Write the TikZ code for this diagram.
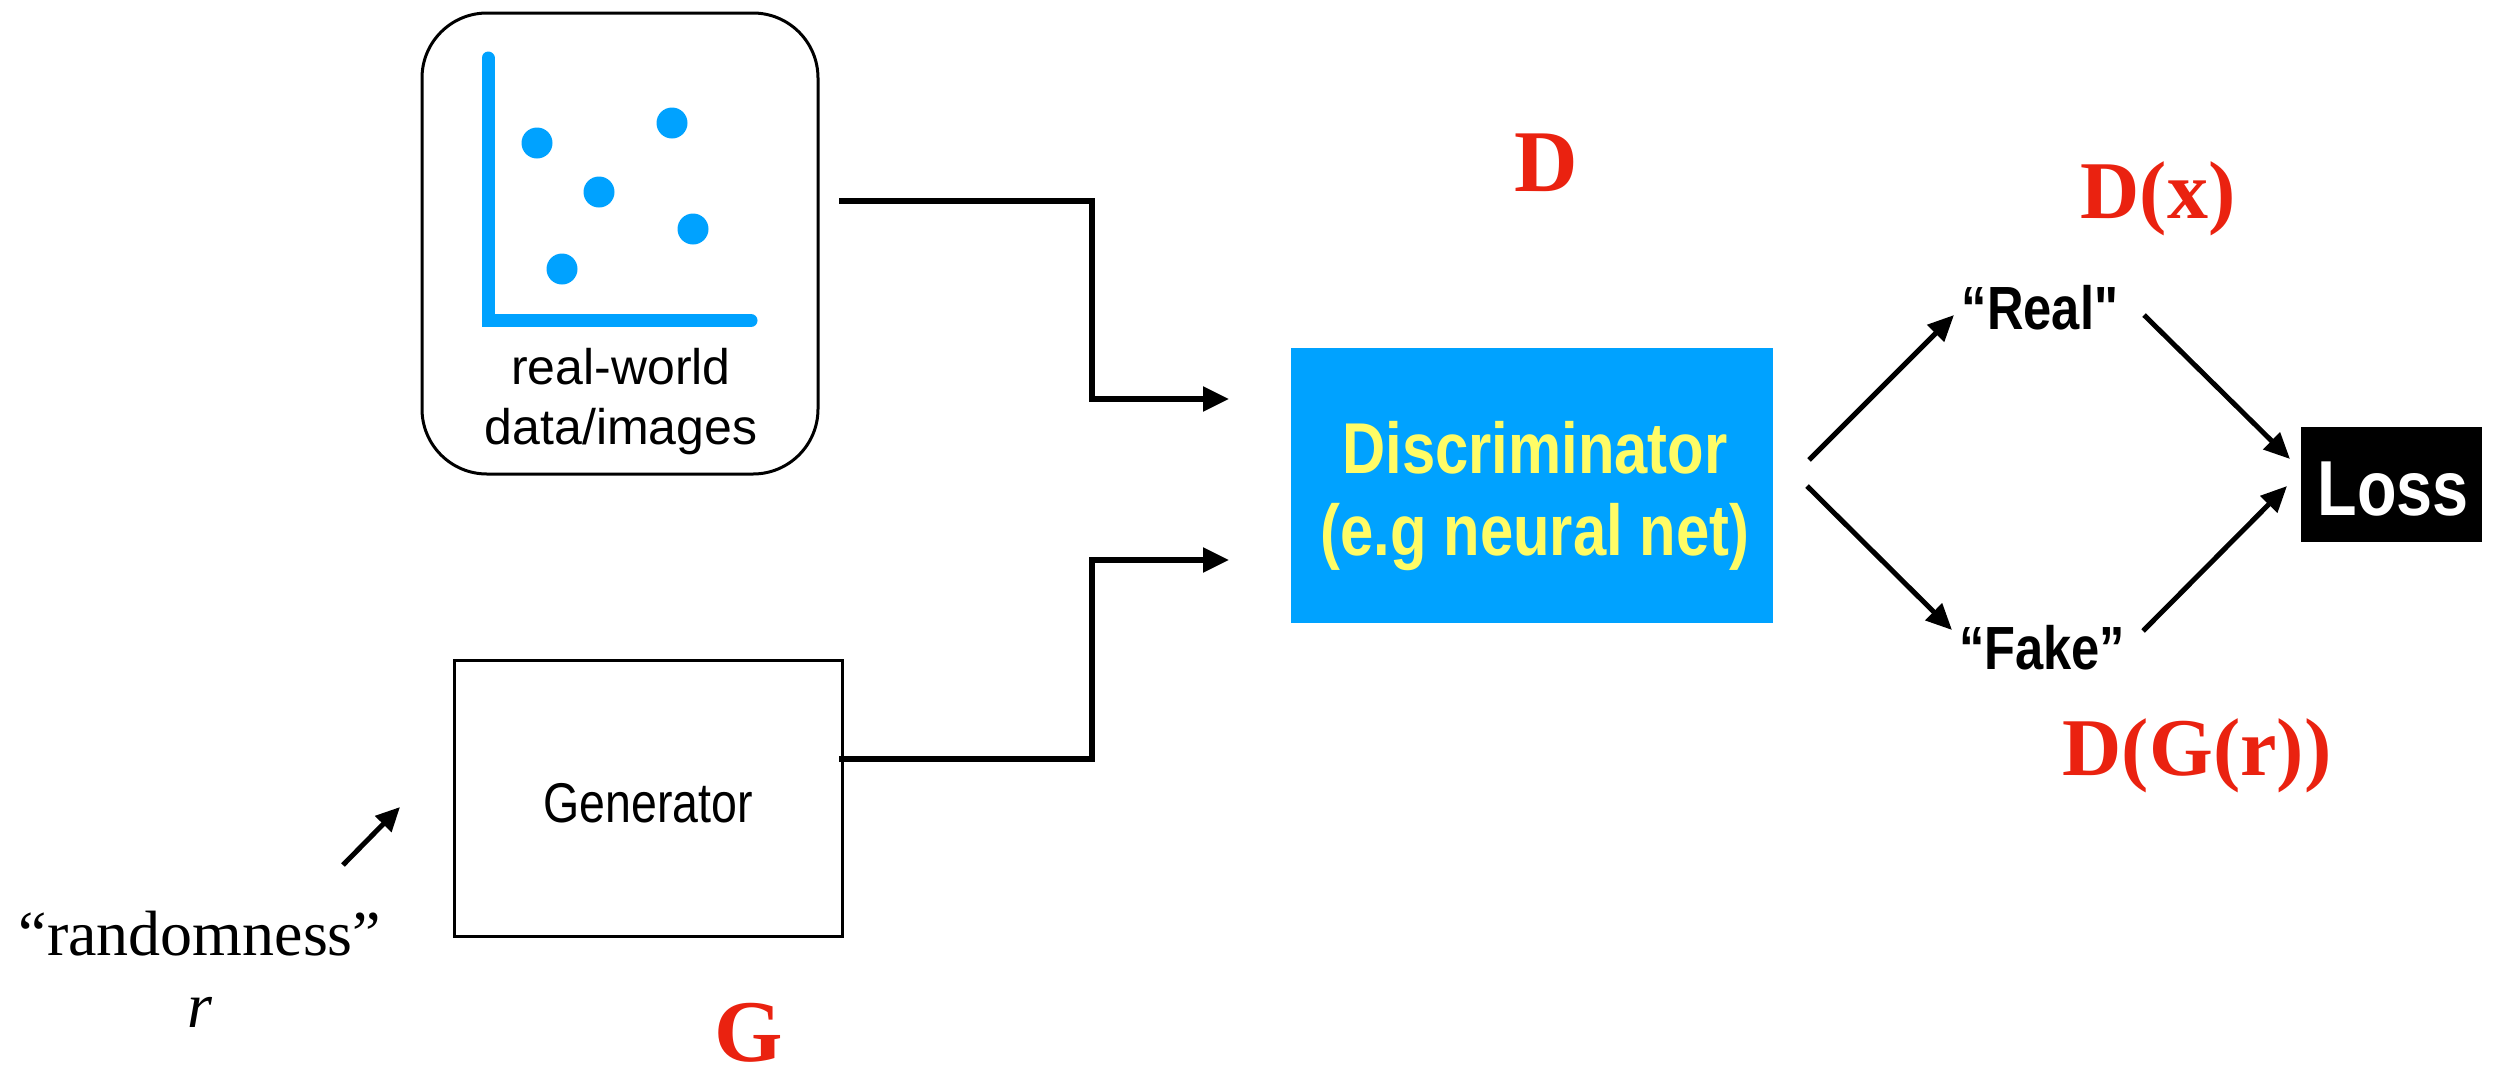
\documentclass[tikz,border=0pt]{standalone}
\usepackage{fontspec}
\usetikzlibrary{arrows.meta}
\newfontfamily\sansface{Liberation Sans}
\newfontfamily\narrowface[FakeStretch=0.83]{Liberation Sans}
\newfontfamily\serifface{Liberation Serif}
\definecolor{netblue}{RGB}{0,162,255}
\definecolor{labelred}{RGB}{234,34,16}
\definecolor{netyellow}{RGB}{255,252,102}

\begin{document}
\begin{tikzpicture}[x=1pt,y=-1pt,
  frame/.style={draw=black,line width=3pt},
  conn/.style={line width=5.5pt,-{Triangle[length=26pt,width=24pt]}},
  diag/.style={line width=5pt,-{Triangle[length=26pt,width=23pt]}},
  smallarrow/.style={line width=5pt,-{Triangle[length=24pt,width=22pt]}},
  redlabel/.style={text=labelred,anchor=base,inner sep=0pt,
    font=\serifface\bfseries\fontsize{82}{90}\selectfont},
  outlabel/.style={anchor=base,inner sep=0pt,
    font=\narrowface\bfseries\fontsize{61}{70}\selectfont},
  dot/.style={fill=netblue,draw=none}
]
\useasboundingbox (0,0) rectangle (2500,1080);

% real-world data box with scatter plot
\node[frame,rounded corners=65pt,minimum width=396pt,minimum height=461pt,inner sep=0pt]
  (real) at (620,243.5) {};
\draw[netblue,line width=13pt,line cap=round,line join=miter]
  (488,58) -- (488,320.5) -- (751,320.5);
\foreach \px/\py in {537/143, 672/123, 599/192, 693/229, 562/269}
  \fill[dot] (\px,\py) circle (15.5pt);
\node[align=center,inner sep=0pt,font=\sansface\fontsize{50}{60}\selectfont]
  (realtext) at (621,402) {real-world\\data/images};

% generator
\node[frame,minimum width=388pt,minimum height=276pt,inner sep=0pt]
  (gen) at (648,798) {};
\node[inner sep=0pt,anchor=base,font=\narrowface\fontsize{56}{64}\selectfont]
  (gentext) at (648,822) {Generator};

% randomness input
\node[anchor=base,inner sep=0pt,font=\serifface\fontsize{64}{72}\selectfont]
  (rand) at (200,955) {“randomness”};
\node[anchor=base,inner sep=0pt,font=\serifface\itshape\fontsize{64}{72}\selectfont]
  (rsym) at (200,1027) {r};
\coordinate (randfrom) at (343,865);
\coordinate (randto) at (400,807);
\draw[smallarrow] (randfrom) -- (randto);

% discriminator
\node[fill=netblue,minimum width=482pt,minimum height=275pt,inner sep=0pt]
  (disc) at (1532,485.5) {};
\node[align=center,inner sep=0pt,text=netyellow,
  font=\narrowface\bfseries\fontsize{72}{82}\selectfont]
  (disctext) at (1535,496) {Discriminator\\(e.g neural net)};

% inputs into the discriminator
\coordinate (realout) at (839,201);
\coordinate (genout) at (839,759);
\coordinate (discin1) at (1229,399);
\coordinate (discin2) at (1229,560);
\draw[conn] (realout) -- (1092,201) |- (discin1);
\draw[conn] (genout) -- (1092,759) |- (discin2);

% outputs
\node[outlabel] (realout2) at (2040,329) {“Real"};
\node[outlabel] (fakeout) at (2042,669) {“Fake”};
\node[fill=black,minimum width=181pt,minimum height=115pt,inner sep=0pt]
  (loss) at (2391.5,484.5) {};
\node[inner sep=0pt,anchor=base,text=white,
  font=\narrowface\bfseries\fontsize{78}{86}\selectfont]
  (losstext) at (2393,515) {Loss};

\coordinate (d1s) at (1809,460);
\coordinate (d1e) at (1954,315);
\coordinate (d2s) at (1807,486);
\coordinate (d2e) at (1952,630);
\coordinate (l1s) at (2144,315);
\coordinate (l1e) at (2290,459);
\coordinate (l2s) at (2143,631);
\coordinate (l2e) at (2287,486);
\draw[diag] (d1s) -- (d1e);
\draw[diag] (d2s) -- (d2e);
\draw[diag] (l1s) -- (l1e);
\draw[diag] (l2s) -- (l2e);

% red labels
\node[redlabel,font=\serifface\bfseries\fontsize{88}{96}\selectfont] (dlab) at (1546,191) {D};
\node[redlabel,font=\serifface\bfseries\fontsize{88}{96}\selectfont] (glab) at (749,1061) {G};
\node[redlabel] (dxlab) at (2158,218) {D(x)};
\node[redlabel] (dgrlab) at (2197,775) {D(G(r))};
\end{tikzpicture}
\end{document}
